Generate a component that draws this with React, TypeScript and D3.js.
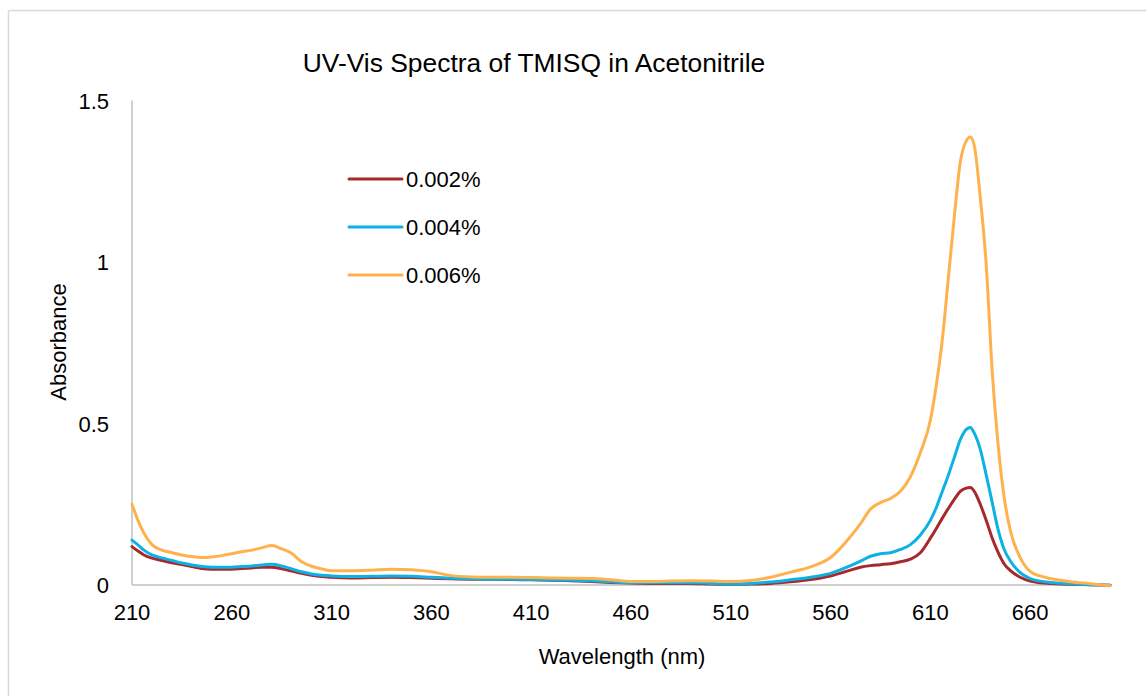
import * as d3 from 'd3';

// wavelength grid (nm) and absorbance readings for each concentration
const wavelengths = [
  210, 213, 216, 220, 225, 230, 235, 240, 245, 250, 255, 260, 265, 270, 275, 280, 285, 290, 295, 300,
  305, 310, 320, 330, 340, 350, 360, 370, 380, 390, 400, 410, 420, 430, 440, 450, 460, 470, 480, 490,
  500, 510, 520, 530, 540, 550, 560, 570, 575, 580, 585, 590, 595, 600, 605, 610, 613, 616, 619, 622,
  625, 628, 630, 632, 635, 638, 641, 644, 647, 650, 655, 660, 665, 670, 680, 690, 700,
];

const abs002 = [
  0.119, 0.105, 0.093, 0.083, 0.076, 0.069, 0.063, 0.057, 0.051, 0.049, 0.049, 0.049, 0.051, 0.053, 0.055, 0.055, 0.05, 0.043, 0.036, 0.03,
  0.026, 0.024, 0.022, 0.023, 0.024, 0.023, 0.021, 0.019, 0.018, 0.018, 0.017, 0.016, 0.015, 0.013, 0.011, 0.008, 0.006, 0.005, 0.005, 0.005,
  0.003, 0.002, 0.003, 0.005, 0.01, 0.017, 0.028, 0.046, 0.055, 0.06, 0.063, 0.066, 0.072, 0.08, 0.1, 0.145, 0.175, 0.207, 0.237, 0.265,
  0.29, 0.3, 0.302, 0.29, 0.25, 0.2, 0.145, 0.1, 0.065, 0.045, 0.024, 0.012, 0.007, 0.005, 0.002, 0.001, -0.001,
];

const abs004 = [
  0.139, 0.124, 0.108, 0.093, 0.084, 0.076, 0.068, 0.062, 0.057, 0.055, 0.055, 0.055, 0.057, 0.059, 0.062, 0.064, 0.059, 0.05, 0.041, 0.034,
  0.03, 0.028, 0.026, 0.027, 0.028, 0.027, 0.024, 0.021, 0.019, 0.018, 0.018, 0.017, 0.016, 0.015, 0.013, 0.01, 0.007, 0.007, 0.007, 0.007,
  0.005, 0.003, 0.005, 0.009, 0.016, 0.024, 0.036, 0.06, 0.074, 0.089, 0.097, 0.1, 0.11, 0.125, 0.155, 0.2, 0.24, 0.29, 0.34, 0.395,
  0.45, 0.482, 0.488, 0.47, 0.42, 0.34, 0.255, 0.17, 0.11, 0.075, 0.038, 0.02, 0.012, 0.008, 0.004, 0.001, -0.001,
];

const abs006 = [
  0.25, 0.2, 0.16, 0.125, 0.108, 0.1, 0.093, 0.088, 0.085, 0.087, 0.091, 0.097, 0.103, 0.108, 0.115, 0.122, 0.112, 0.098, 0.072, 0.058,
  0.05, 0.044, 0.044, 0.046, 0.049, 0.047, 0.041, 0.029, 0.025, 0.024, 0.024, 0.023, 0.022, 0.021, 0.02, 0.016, 0.011, 0.011, 0.012, 0.013,
  0.012, 0.011, 0.014, 0.024, 0.04, 0.056, 0.085, 0.15, 0.19, 0.235, 0.255, 0.268, 0.29, 0.335, 0.41, 0.51, 0.62, 0.76, 0.95, 1.14,
  1.31, 1.375, 1.387, 1.36, 1.2, 0.99, 0.66, 0.43, 0.27, 0.17, 0.085, 0.042, 0.028, 0.02, 0.01, 0.004, -0.002,
];

const seriesNames = ['0.002%', '0.004%', '0.006%'];
const seriesColors = ['#A7292C', '#0BB2E3', '#FFB14E'];
const seriesValues = [abs002, abs004, abs006];

const xTicks = [210, 260, 310, 360, 410, 460, 510, 560, 610, 660];
const yTicks = [0, 0.5, 1, 1.5];

const W = 1146;
const H = 696;
const FONT = '"Liberation Sans", Arial, sans-serif';

export default function App() {
  const x = d3.scaleLinear().domain([210, 701]).range([132, 1112]);
  const y = d3.scaleLinear().domain([0, 1.5]).range([585, 100.5]);

  const line = d3
    .line<[number, number]>()
    .x((d) => x(d[0]))
    .y((d) => y(d[1]))
    .curve(d3.curveMonotoneX);

  return (
    <svg
      width={W}
      height={H}
      style={{ position: 'absolute', left: 0, top: 0, background: '#fff' }}
      fontFamily={FONT}
    >
      {/* chart frame */}
      <line x1={8.5} y1={10.5} x2={W} y2={10.5} stroke="#d9d9d9" strokeWidth={1.5} />
      <line x1={8.5} y1={10.5} x2={8.5} y2={H} stroke="#d9d9d9" strokeWidth={1.5} />

      <text x={534} y={72} textAnchor="middle" fontSize={26.4} fill="#000">
        UV-Vis Spectra of TMISQ in Acetonitrile
      </text>

      {/* axes */}
      <line x1={x(210)} y1={y(0)} x2={x(701)} y2={y(0)} stroke="#bfbfbf" strokeWidth={1.5} />
      <line x1={x(210)} y1={y(0)} x2={x(210)} y2={y(1.5)} stroke="#bfbfbf" strokeWidth={1.5} />

      {yTicks.map((t) => (
        <text key={t} x={109} y={y(t) + 8} textAnchor="end" fontSize={22} fill="#000">
          {t}
        </text>
      ))}
      {xTicks.map((t) => (
        <text key={t} x={x(t)} y={620} textAnchor="middle" fontSize={22} fill="#000">
          {t}
        </text>
      ))}

      <text
        transform={`translate(66,342) rotate(-90)`}
        textAnchor="middle"
        fontSize={22}
        fill="#000"
      >
        Absorbance
      </text>
      <text x={622} y={664} textAnchor="middle" fontSize={22} fill="#000">
        Wavelength (nm)
      </text>

      {/* spectra */}
      {seriesValues.map((vals, i) => (
        <path
          key={seriesNames[i]}
          d={line(wavelengths.map((w, j) => [w, vals[j]] as [number, number])) || ''}
          fill="none"
          stroke={seriesColors[i]}
          strokeWidth={3}
          strokeLinejoin="round"
          strokeLinecap="round"
        />
      ))}

      {/* legend */}
      {seriesNames.map((name, i) => (
        <g key={name} transform={`translate(0,${179 + i * 48})`}>
          <line x1={349} x2={402} y1={0} y2={0} stroke={seriesColors[i]} strokeWidth={3} strokeLinecap="round" />
          <text x={406} y={8} fontSize={22} fill="#000">
            {name}
          </text>
        </g>
      ))}
    </svg>
  );
}
